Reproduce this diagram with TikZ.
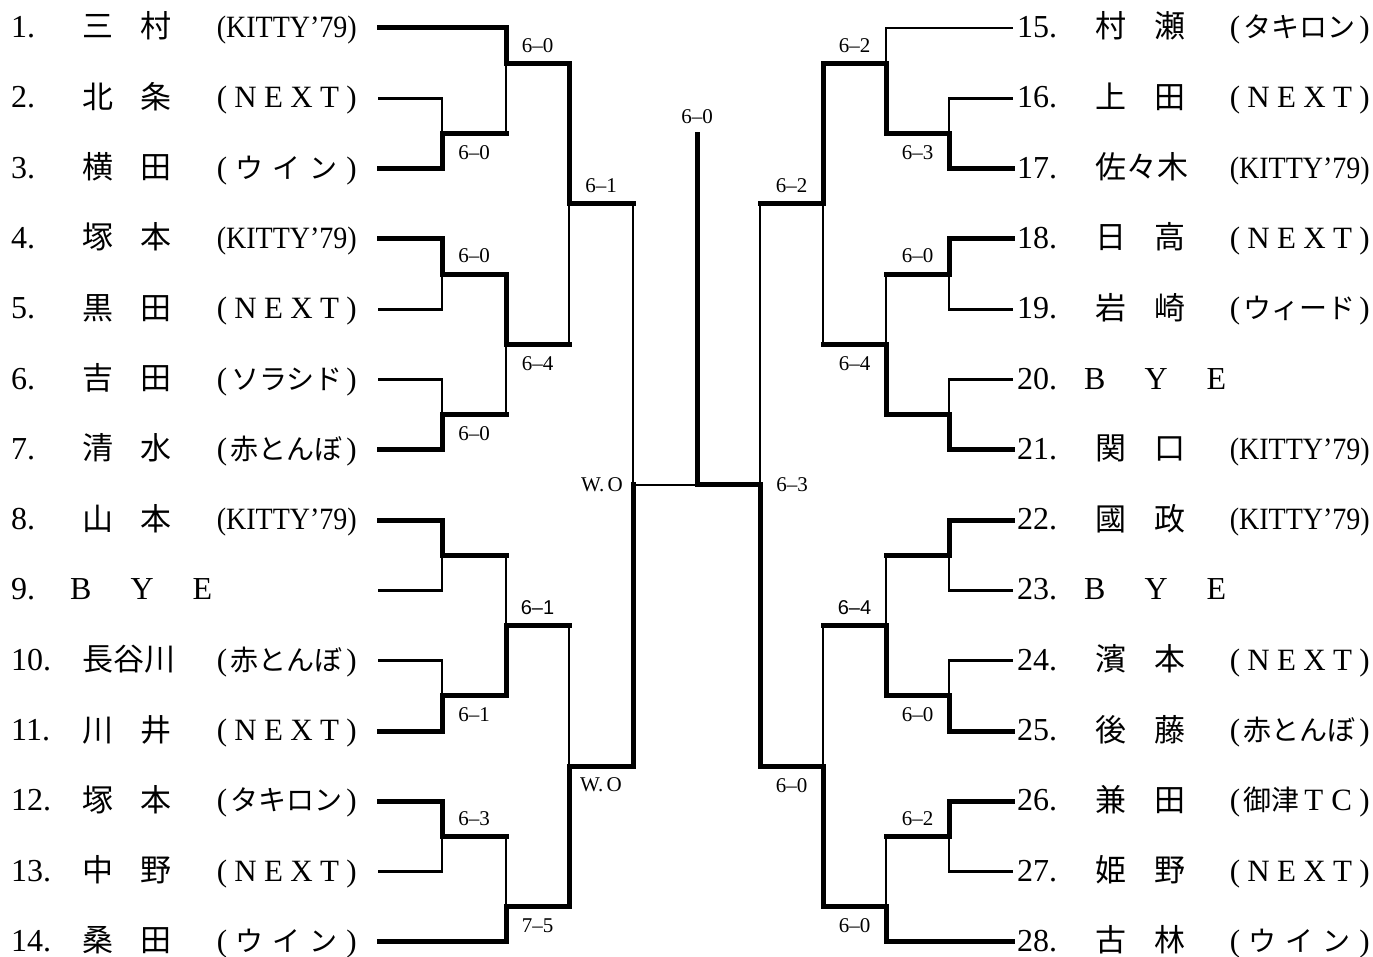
\documentclass[tikz,border=0pt]{standalone}
\usepackage{fontspec}
\usepackage{graphicx}
\setmainfont{Liberation Serif}
\newfontfamily\jp{Noto Sans CJK JP}
\newfontfamily\sansf{Liberation Sans}
\newcommand{\vm}[6]{\draw[#5](#1,#2)--(#1,#3);\draw[#6](#1,#3)--(#1,#4);}
\newcommand{\kt}[1]{{\fontsize{28}{34}\selectfont\jp #1}}
\newcommand{\cK}{\resizebox{140pt}{\height}{(KITTY’79)}}
\newcommand{\cN}{\makebox[140pt][s]{(\hfill N\hfill E\hfill X\hfill T\hfill)}}
\newcommand{\cW}{\makebox[140pt][s]{(\hfill\kt{ウ}\hfill\kt{イ}\hfill\kt{ン}\hfill)}}
\newcommand{\cF}[1]{\makebox[140pt][s]{(\hfill\kt{#1}\hfill)}}
\newcommand{\cM}{\makebox[140pt][s]{(\hfill\kt{御津}\makebox[28pt]{T}\makebox[28pt]{C}\hfill)}}
\newcommand{\nmII}[2]{\makebox[90pt][s]{#1\hfill #2}}
\newcommand{\nmIII}[3]{\makebox[90pt][s]{#1\hfill #2\hfill #3}}
\newcommand{\bye}{\makebox[142pt][s]{B\hfill Y\hfill E}}
\def\LS{379}\def\LA{442}\def\LB{506}\def\LC{569}\def\LD{633}\def\CC{697}
\def\RD{760}\def\RC{823}\def\RB{886}\def\RA{949}\def\RS{1012}
\begin{document}
\begin{tikzpicture}[x=1pt,y=-70.3pt,
  thk/.style={line width=5pt,line cap=rect},
  thn/.style={line width=2.6pt,line cap=rect},
  num/.style={anchor=base west,inner sep=0pt,yshift=-9.5pt,font=\fontsize{32}{38}\selectfont},
  nm/.style={anchor=base,inner sep=0pt,yshift=-10pt,font=\fontsize{31}{36}\selectfont\jp},
  club/.style={anchor=base east,inner sep=0pt,yshift=-9.5pt,font=\fontsize{31}{36}\selectfont},
  sc/.style={inner sep=0pt,font=\fontsize{21}{24}\selectfont},
  scb/.style={inner sep=0pt,font=\fontsize{20}{24}\selectfont\sansf},
  up/.style={yshift=18pt},
  dn/.style={yshift=-19pt}]
\useasboundingbox (0,0.6017) rectangle (1373,14.2146);
% ---------------- left players
\foreach \k/\n/\nm/\c in {1/1./\nmII{三}{村}/\cK, 2/2./\nmII{北}{条}/\cN, 3/3./\nmII{横}{田}/\cW,
  4/4./\nmII{塚}{本}/\cK, 5/5./\nmII{黒}{田}/\cN, 6/6./\nmII{吉}{田}/\cF{ソラシド},
  7/7./\nmII{清}{水}/\cF{赤とんぼ}, 8/8./\nmII{山}{本}/\cK, 10/10./\nmIII{長}{谷}{川}/\cF{赤とんぼ},
  11/11./\nmII{川}{井}/\cN, 12/12./\nmII{塚}{本}/\cF{タキロン}, 13/13./\nmII{中}{野}/\cN,
  14/14./\nmII{桑}{田}/\cW}{
  \node[num] (n\k) at (11,\k) {\n};
  \node[nm] (m\k) at (127,\k) {\nm};
  \node[club] (c\k) at (357,\k) {\c};
}
\node[num] (n9) at (11,9) {9.};
\node[num] (m9) at (70,9) {\bye};
% ---------------- right players
\foreach \k/\r/\n/\nm/\c in {15/1/15./\nmII{村}{瀬}/\cF{タキロン}, 16/2/16./\nmII{上}{田}/\cN,
  17/3/17./\nmIII{佐}{々}{木}/\cK, 18/4/18./\nmII{日}{高}/\cN, 19/5/19./\nmII{岩}{崎}/\cF{ウィード},
  21/7/21./\nmII{関}{口}/\cK, 22/8/22./\nmII{國}{政}/\cK, 24/10/24./\nmII{濱}{本}/\cN,
  25/11/25./\nmII{後}{藤}/\cF{赤とんぼ}, 26/12/26./\nmII{兼}{田}/\cM, 27/13/27./\nmII{姫}{野}/\cN,
  28/14/28./\nmII{古}{林}/\cW}{
  \node[num] (n\k) at (1017,\r) {\n};
  \node[nm] (m\k) at (1140.5,\r) {\nm};
  \node[club] (c\k) at (1370,\r) {\c};
}
\node[num] (n20) at (1017,6) {20.};
\node[num] (m20) at (1084,6) {\bye};
\node[num] (n23) at (1017,9) {23.};
\node[num] (m23) at (1084,9) {\bye};
% ---------------- left bracket
\draw[thk] (\LS,1)--(\LB,1);
\draw[thn] (\LS,2)--(\LA,2);
\draw[thk] (\LS,3)--(\LA,3);
\draw[thk] (\LS,4)--(\LA,4);
\draw[thn] (\LS,5)--(\LA,5);
\draw[thn] (\LS,6)--(\LA,6);
\draw[thk] (\LS,7)--(\LA,7);
\draw[thk] (\LS,8)--(\LA,8);
\draw[thn] (\LS,9)--(\LA,9);
\draw[thn] (\LS,10)--(\LA,10);
\draw[thk] (\LS,11)--(\LA,11);
\draw[thk] (\LS,12)--(\LA,12);
\draw[thn] (\LS,13)--(\LA,13);
\draw[thk] (\LS,14)--(\LB,14);
\vm{\LA}{2}{2.5}{3}{thn}{thk} \draw[thk](\LA,2.5)--(\LB,2.5);
\vm{\LA}{4}{4.5}{5}{thk}{thn} \draw[thk](\LA,4.5)--(\LB,4.5);
\vm{\LA}{6}{6.5}{7}{thn}{thk} \draw[thk](\LA,6.5)--(\LB,6.5);
\vm{\LA}{8}{8.5}{9}{thk}{thn} \draw[thk](\LA,8.5)--(\LB,8.5);
\vm{\LA}{10}{10.5}{11}{thn}{thk} \draw[thk](\LA,10.5)--(\LB,10.5);
\vm{\LA}{12}{12.5}{13}{thk}{thn} \draw[thk](\LA,12.5)--(\LB,12.5);
\vm{\LB}{1}{1.5}{2.5}{thk}{thn} \draw[thk](\LB,1.5)--(\LC,1.5);
\vm{\LB}{4.5}{5.5}{6.5}{thk}{thn} \draw[thk](\LB,5.5)--(\LC,5.5);
\vm{\LB}{8.5}{9.5}{10.5}{thn}{thk} \draw[thk](\LB,9.5)--(\LC,9.5);
\vm{\LB}{12.5}{13.5}{14}{thn}{thk} \draw[thk](\LB,13.5)--(\LC,13.5);
\vm{\LC}{1.5}{3.5}{5.5}{thk}{thn} \draw[thk](\LC,3.5)--(\LD,3.5);
\vm{\LC}{9.5}{11.5}{13.5}{thn}{thk} \draw[thk](\LC,11.5)--(\LD,11.5);
\vm{\LD}{3.5}{7.5}{11.5}{thn}{thk}
% ---------------- final
\coordinate (fin) at (\CC,7.5);
\coordinate (top) at (\CC,2.52);
\draw[thn] (\LD,7.5)--(fin);
\draw[thk] (fin)--(\RD,7.5);
\draw[thk] (fin)--(top);
% ---------------- right bracket
\draw[thn] (\RB,1)--(\RS,1);
\draw[thn] (\RA,2)--(\RS,2);
\draw[thk] (\RA,3)--(\RS,3);
\draw[thk] (\RA,4)--(\RS,4);
\draw[thn] (\RA,5)--(\RS,5);
\draw[thn] (\RA,6)--(\RS,6);
\draw[thk] (\RA,7)--(\RS,7);
\draw[thk] (\RA,8)--(\RS,8);
\draw[thn] (\RA,9)--(\RS,9);
\draw[thn] (\RA,10)--(\RS,10);
\draw[thk] (\RA,11)--(\RS,11);
\draw[thk] (\RA,12)--(\RS,12);
\draw[thn] (\RA,13)--(\RS,13);
\draw[thk] (\RB,14)--(\RS,14);
\vm{\RA}{2}{2.5}{3}{thn}{thk} \draw[thk](\RB,2.5)--(\RA,2.5);
\vm{\RA}{4}{4.5}{5}{thk}{thn} \draw[thk](\RB,4.5)--(\RA,4.5);
\vm{\RA}{6}{6.5}{7}{thn}{thk} \draw[thk](\RB,6.5)--(\RA,6.5);
\vm{\RA}{8}{8.5}{9}{thk}{thn} \draw[thk](\RB,8.5)--(\RA,8.5);
\vm{\RA}{10}{10.5}{11}{thn}{thk} \draw[thk](\RB,10.5)--(\RA,10.5);
\vm{\RA}{12}{12.5}{13}{thk}{thn} \draw[thk](\RB,12.5)--(\RA,12.5);
\vm{\RB}{1}{1.5}{2.5}{thn}{thk} \draw[thk](\RC,1.5)--(\RB,1.5);
\vm{\RB}{4.5}{5.5}{6.5}{thn}{thk} \draw[thk](\RC,5.5)--(\RB,5.5);
\vm{\RB}{8.5}{9.5}{10.5}{thn}{thk} \draw[thk](\RC,9.5)--(\RB,9.5);
\vm{\RB}{12.5}{13.5}{14}{thn}{thk} \draw[thk](\RC,13.5)--(\RB,13.5);
\vm{\RC}{1.5}{3.5}{5.5}{thk}{thn} \draw[thk](\RD,3.5)--(\RC,3.5);
\vm{\RC}{9.5}{11.5}{13.5}{thn}{thk} \draw[thk](\RD,11.5)--(\RC,11.5);
\vm{\RD}{3.5}{7.5}{11.5}{thn}{thk}
% ---------------- scores left
\node[sc,up] (sL1) at (537.5,1.5) {6–0};
\node[sc,dn] (sL2) at (474,2.5) {6–0};
\node[sc,up] (sL3) at (601,3.5) {6–1};
\node[sc,up] (sL4) at (474,4.5) {6–0};
\node[sc,dn] (sL5) at (537.5,5.5) {6–4};
\node[sc,dn] (sL6) at (474,6.5) {6–0};
\node[sc] (sL7) at (602,7.5) {W.\,O};
\node[scb,up] (sL8) at (537.5,9.5) {6–1};
\node[sc,dn] (sL9) at (474,10.5) {6–1};
\node[sc,dn] (sL10) at (601,11.5) {W.\,O};
\node[sc,up] (sL11) at (474,12.5) {6–3};
\node[sc,dn] (sL12) at (537.5,13.5) {7–5};
\node[sc,up] (sF) at (697,2.52) {6–0};
% ---------------- scores right
\node[sc,up] (sR1) at (854.5,1.5) {6–2};
\node[sc,dn] (sR2) at (917.5,2.5) {6–3};
\node[sc,up] (sR3) at (791.5,3.5) {6–2};
\node[sc,up] (sR4) at (917.5,4.5) {6–0};
\node[sc,dn] (sR5) at (854.5,5.5) {6–4};
\node[sc] (sR6) at (792,7.5) {6–3};
\node[scb,up] (sR7) at (854.5,9.5) {6–4};
\node[sc,dn] (sR8) at (917.5,10.5) {6–0};
\node[sc,dn] (sR9) at (791.5,11.5) {6–0};
\node[sc,up] (sR10) at (917.5,12.5) {6–2};
\node[sc,dn] (sR11) at (854.5,13.5) {6–0};
\end{tikzpicture}
\end{document}
